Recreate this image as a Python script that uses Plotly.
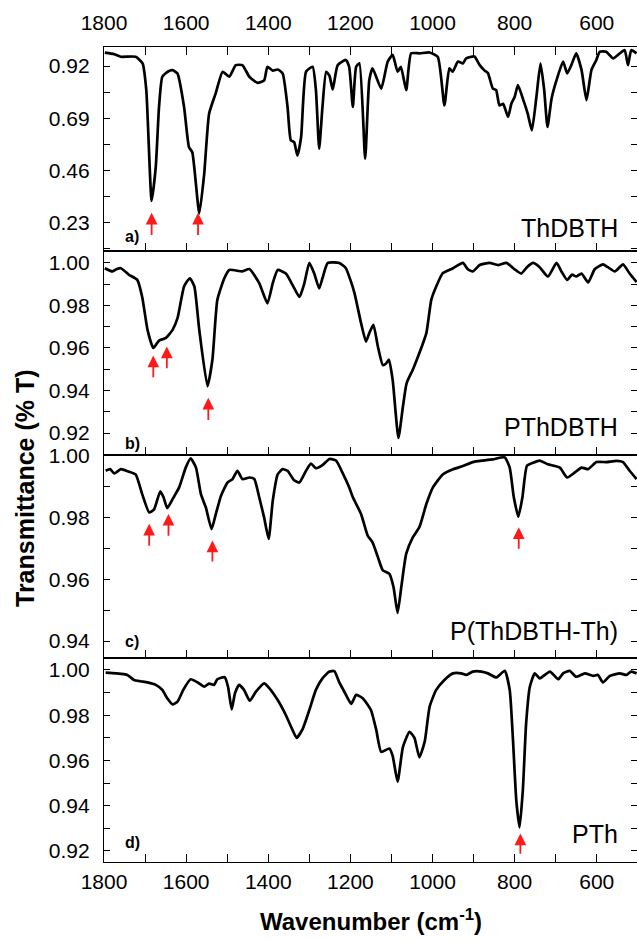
import plotly.graph_objects as go

# ---------------- data ----------------
wn_a = [1798, 1775, 1759, 1723, 1706, 1697, 1684, 1674, 1666, 1658, 1645, 1633, 1621, 1605, 1593, 1585,
        1568, 1556, 1544, 1528, 1511, 1495, 1479, 1463, 1446, 1426, 1410, 1402, 1389, 1377, 1365, 1353,
        1345, 1337, 1329, 1320, 1308, 1292, 1284, 1276, 1268, 1259, 1251, 1243, 1231, 1211, 1203, 1194,
        1186, 1178, 1164, 1154, 1146, 1125, 1109, 1097, 1085, 1077, 1064, 1052, 1031, 1007, 987, 971,
        959, 951, 938, 926, 918, 898, 885, 873, 865, 853, 845, 837, 828, 816, 808, 800, 792, 780, 768,
        758, 747, 737, 728, 720, 710, 698, 682, 672, 662, 650, 637, 625, 613, 601, 593, 577, 560, 544,
        532, 524, 516, 503]
t_a = [0.979, 0.972, 0.961, 0.961, 0.932, 0.814, 0.327, 0.475, 0.74, 0.873, 0.895, 0.902, 0.887, 0.74,
       0.563, 0.541, 0.271, 0.445, 0.711, 0.80, 0.895, 0.873, 0.924, 0.924, 0.873, 0.846, 0.857, 0.917,
       0.90, 0.905, 0.888, 0.74, 0.593, 0.585, 0.526, 0.607, 0.895, 0.917, 0.816, 0.556, 0.74, 0.895,
       0.878, 0.817, 0.924, 0.947, 0.917, 0.74, 0.917, 0.932, 0.512, 0.858, 0.91, 0.821, 0.94, 0.969,
       0.895, 0.917, 0.814, 0.976, 0.976, 0.98, 0.96, 0.747, 0.91, 0.895, 0.94, 0.932, 0.954, 0.962,
       0.924, 0.90, 0.889, 0.821, 0.814, 0.747, 0.754, 0.696, 0.754, 0.784, 0.836, 0.777, 0.71, 0.637,
       0.784, 0.932, 0.814, 0.652, 0.777, 0.858, 0.94, 0.888, 0.924, 0.976, 0.902, 0.77, 0.902, 0.947,
       0.983, 0.983, 0.954, 0.976, 0.99, 0.924, 0.99, 0.976]

wn_b = [1798, 1780, 1770, 1759, 1739, 1719, 1707, 1694, 1680, 1666, 1650, 1633, 1621, 1605, 1591, 1580,
        1568, 1548, 1536, 1524, 1507, 1495, 1463, 1446, 1422, 1402, 1389, 1377, 1357, 1341, 1324, 1312,
        1300, 1288, 1276, 1268, 1255, 1227, 1211, 1200, 1190, 1174, 1162, 1154, 1144, 1133, 1121, 1113,
        1106, 1097, 1083, 1072, 1063, 1048, 1032, 1015, 1003, 991, 975, 950, 926, 914, 902, 885, 861,
        840, 820, 800, 784, 770, 755, 739, 719, 698, 686, 672, 660, 650, 637, 621, 605, 585, 573, 556,
        536, 520, 503]
t_b = [0.9975, 0.996, 0.997, 0.9975, 0.9944, 0.992, 0.984, 0.9685, 0.960, 0.9635, 0.9646, 0.9685, 0.974,
       0.9889, 0.9928, 0.9889, 0.9685, 0.942, 0.9545, 0.9826, 0.9928, 0.9967, 0.996, 0.9971, 0.9905,
       0.981, 0.9905, 0.9967, 0.995, 0.9897, 0.984, 0.9905, 1.0, 0.995, 0.988, 0.9928, 1.0, 1.0, 0.9975,
       0.992, 0.9858, 0.9717, 0.963, 0.967, 0.9709, 0.9607, 0.952, 0.9527, 0.9545, 0.945, 0.9177,
       0.9325, 0.9435, 0.9498, 0.9576, 0.967, 0.9826, 0.9889, 0.9952, 0.9975, 1.0, 0.997, 0.996, 0.999,
       1.0, 0.999, 1.0, 0.997, 0.995, 0.998, 1.0, 0.998, 0.9936, 1.0, 0.996, 0.992, 0.9945, 0.9936,
       0.995, 0.9908, 0.997, 0.9993, 0.998, 0.996, 0.9993, 0.995, 0.991]

wn_c = [1796, 1785, 1775, 1759, 1742, 1723, 1707, 1690, 1678, 1663, 1655, 1646, 1633, 1617, 1601, 1589,
        1576, 1564, 1552, 1538, 1528, 1515, 1499, 1487, 1475, 1463, 1446, 1434, 1422, 1410, 1399, 1389,
        1377, 1365, 1353, 1337, 1324, 1308, 1296, 1284, 1268, 1251, 1235, 1219, 1202, 1194, 1174, 1158,
        1146, 1133, 1121, 1105, 1095, 1085, 1076, 1064, 1048, 1032, 1015, 999, 975, 950, 926, 902, 877,
        853, 824, 812, 802, 791, 781, 770, 755, 739, 719, 690, 672, 654, 637, 621, 601, 577, 552, 536,
        520, 503]
t_c = [0.9952, 0.9957, 0.9943, 0.9957, 0.995, 0.994, 0.9876, 0.9817, 0.9827, 0.9885, 0.9866, 0.9831,
       0.986, 0.9898, 0.9962, 0.9992, 0.9962, 0.9876, 0.9833, 0.9763, 0.981, 0.9871, 0.9914, 0.9925,
       0.9952, 0.9925, 0.993, 0.9925, 0.9866, 0.98, 0.9731, 0.9855, 0.994, 0.9957, 0.9952, 0.9921,
       0.9914, 0.9952, 0.9975, 0.996, 0.997, 0.999, 0.9985, 0.9945, 0.9895, 0.9866, 0.9812, 0.9742,
       0.972, 0.9672, 0.9629, 0.9618, 0.9575, 0.9491, 0.9575, 0.9683, 0.9736, 0.9769, 0.9844, 0.9898,
       0.994, 0.9957, 0.9967, 0.998, 0.9985, 0.9989, 0.9995, 0.9962, 0.9866, 0.9803, 0.9866, 0.9968,
       0.9978, 0.9985, 0.9973, 0.9962, 0.993, 0.9946, 0.9962, 0.9957, 0.998, 0.998, 0.9984, 0.998,
       0.9952, 0.9925]

wn_d = [1796, 1771, 1743, 1727, 1711, 1694, 1674, 1658, 1646, 1633, 1621, 1607, 1589, 1572, 1556, 1544,
        1532, 1524, 1506, 1498, 1489, 1481, 1471, 1459, 1445, 1430, 1410, 1397, 1377, 1357, 1341, 1331,
        1316, 1300, 1284, 1268, 1251, 1239, 1227, 1215, 1198, 1186, 1170, 1150, 1137, 1125, 1105, 1097,
        1085, 1072, 1056, 1044, 1032, 1019, 1007, 991, 971, 950, 930, 918, 902, 881, 865, 845, 824, 812,
        804, 796, 788, 780, 772, 763, 751, 739, 714, 694, 682, 666, 650, 629, 609, 597, 585, 568, 544,
        528, 516, 503]
t_d = [0.9988, 0.9985, 0.9978, 0.9956, 0.995, 0.9945, 0.9934, 0.9912, 0.9875, 0.9848, 0.986, 0.9912,
       0.9959, 0.9945, 0.9926, 0.994, 0.9934, 0.9959, 0.9968, 0.9926, 0.9826, 0.9897, 0.9934, 0.9912,
       0.9864, 0.9904, 0.9941, 0.9919, 0.9867, 0.980, 0.9735, 0.970, 0.974, 0.9823, 0.9912, 0.9963,
       0.9993, 0.9995, 0.9945, 0.9905, 0.985, 0.989, 0.9875, 0.9823, 0.9735, 0.9638, 0.9653, 0.962,
       0.9506, 0.966, 0.9727, 0.970, 0.9614, 0.9683, 0.9838, 0.9912, 0.9956, 0.9985, 0.9985, 0.9978,
       0.9993, 0.9993, 0.9985, 0.9967, 0.9996, 0.9912, 0.969, 0.9425, 0.9304, 0.9469, 0.9764, 0.9926,
       0.9985, 0.9963, 0.9993, 0.9959, 0.9985, 0.9996, 0.997, 0.9985, 0.9974, 0.9978, 0.9945, 0.9974,
       0.9985, 0.9978, 0.9993, 0.9985]

sample_names = ["ThDBTH", "PThDBTH", "P(ThDBTH-Th)", "PTh"]
panel_tags = ["a)", "b)", "c)", "d)"]

# arrows: wavenumber, head (top) value, tail (bottom) value
arrow_a_wn = [1684, 1571]
arrow_a_head = [0.274, 0.274]
arrow_a_tail = [0.17, 0.17]
arrow_b_wn = [1680, 1647, 1546]
arrow_b_head = [0.9565, 0.9607, 0.9366]
arrow_b_tail = [0.9455, 0.9498, 0.9255]
arrow_c_wn = [1690, 1643, 1536, 790]
arrow_c_head = [0.978, 0.9812, 0.9726, 0.9769]
arrow_c_tail = [0.9704, 0.9736, 0.9653, 0.9694]
arrow_d_wn = [786]
arrow_d_head = [0.9277]
arrow_d_tail = [0.9181]

# ---------------- figure ----------------
FONT = "Liberation Sans, Arial, sans-serif"
W, H = 637, 941
ML, MR, MT, MB = 104, 0, 47, 79

fig = go.Figure()
series = [(wn_a, t_a), (wn_b, t_b), (wn_c, t_c), (wn_d, t_d)]
for i, (wn, t) in enumerate(series):
    sfx = "" if i == 0 else str(i + 1)
    fig.add_trace(go.Scatter(x=wn, y=t, xaxis="x" + sfx, yaxis="y" + sfx, mode="lines",
                             line=dict(color="black", width=2.7, shape="spline", smoothing=0.5),
                             showlegend=False, hoverinfo="skip"))

domains = [[0.7497, 1.0], [0.4994, 0.7497], [0.2503, 0.4994], [0.0, 0.2503]]
yranges = [[0.106, 1.004], [0.9097, 1.0056], [0.9345, 1.0003], [0.9151, 1.0053]]
ydticks = [0.23, 0.02, 0.02, 0.02]
yminor = [0.115, 0.01, 0.01, 0.01]

tickfont = dict(family=FONT, size=21, color="black")
layout = dict(width=W, height=H, margin=dict(l=ML, r=MR, t=MT, b=MB, autoexpand=False),
              paper_bgcolor="white", plot_bgcolor="white", showlegend=False,
              font=dict(family=FONT, color="black"))

for i in range(4):
    sfx = "" if i == 0 else str(i + 1)
    xa = dict(range=[1800, 502], domain=[0, 1], anchor="y" + sfx, showgrid=False, zeroline=False,
              automargin=False,
              showline=True, linecolor="black", linewidth=1.2, ticks="inside", ticklen=8,
              tickwidth=1.3, tickcolor="black", dtick=200, tick0=0,
              minor=dict(dtick=100, ticks="inside", ticklen=8, tickwidth=1.3, tickcolor="black"),
              tickfont=tickfont)
    if i == 0:
        xa.update(side="top", mirror="ticks", showticklabels=True, ticklabelstandoff=8)
    elif i == 3:
        xa.update(side="bottom", mirror=True, showticklabels=True, ticklabelstandoff=1)
    else:
        xa.update(side="bottom", mirror=True, showticklabels=False)
    ya = dict(range=yranges[i], domain=domains[i], anchor="x" + sfx, showgrid=False, zeroline=False,
              automargin=False,
              showline=True, linecolor="black", linewidth=1.2, ticks="inside", ticklen=6,
              tickwidth=1.3, tickcolor="black", mirror="ticks", dtick=ydticks[i], tick0=0,
              tickformat=".2f", tickfont=tickfont, ticklabelstandoff=9,
              minor=dict(dtick=yminor[i], ticks="inside", ticklen=6, tickwidth=1.3, tickcolor="black"))
    layout["xaxis" + sfx] = xa
    layout["yaxis" + sfx] = ya

fig.update_layout(**layout)

ann = []
name_y = [0.115, 0.135, 0.133, 0.137]
tag_y = [0.071, 0.056, 0.079, 0.096]
for i in range(4):
    sfx = "" if i == 0 else str(i + 1)
    ann.append(dict(text=sample_names[i], xref="x%s domain" % sfx, yref="y%s domain" % sfx,
                    x=0.968, y=name_y[i], xanchor="right", yanchor="middle", showarrow=False,
                    font=dict(family=FONT, size=25, color="black")))
    ann.append(dict(text="<b>%s</b>" % panel_tags[i], xref="x%s domain" % sfx, yref="y%s domain" % sfx,
                    x=0.035, y=tag_y[i], xanchor="left", yanchor="middle", showarrow=False,
                    font=dict(family=FONT, size=16, color="black")))

arrow_sets = [(arrow_a_wn, arrow_a_head, arrow_a_tail), (arrow_b_wn, arrow_b_head, arrow_b_tail),
              (arrow_c_wn, arrow_c_head, arrow_c_tail), (arrow_d_wn, arrow_d_head, arrow_d_tail)]
for i, (wns, heads, tails) in enumerate(arrow_sets):
    sfx = "" if i == 0 else str(i + 1)
    for w, hd, tl in zip(wns, heads, tails):
        ann.append(dict(text="", x=w, y=hd, ax=w, ay=tl, xref="x" + sfx, yref="y" + sfx,
                        axref="x" + sfx, ayref="y" + sfx, showarrow=True, arrowhead=2,
                        arrowsize=1.3, arrowwidth=1.8, arrowcolor="#ff1a1a", standoff=0))

ann.append(dict(text="<b>Transmittance (% T)</b>", xref="paper", yref="paper",
                x=(25 - ML) / (W - ML - MR), y=(H - MB - 488) / (H - MT - MB),
                xanchor="center", yanchor="middle", textangle=-90, showarrow=False,
                font=dict(family=FONT, size=25, color="black")))
ann.append(dict(text="<b>Wavenumber (cm<sup>-1</sup>)</b>", xref="paper", yref="paper",
                x=0.5, y=(H - MB - 920) / (H - MT - MB), xanchor="center", yanchor="middle",
                showarrow=False, font=dict(family=FONT, size=24, color="black")))
fig.update_layout(annotations=ann)

fig.write_html("out.html", config={"displayModeBar": False},
               post_script="document.body.style.margin='0';document.body.style.overflow='hidden';")
